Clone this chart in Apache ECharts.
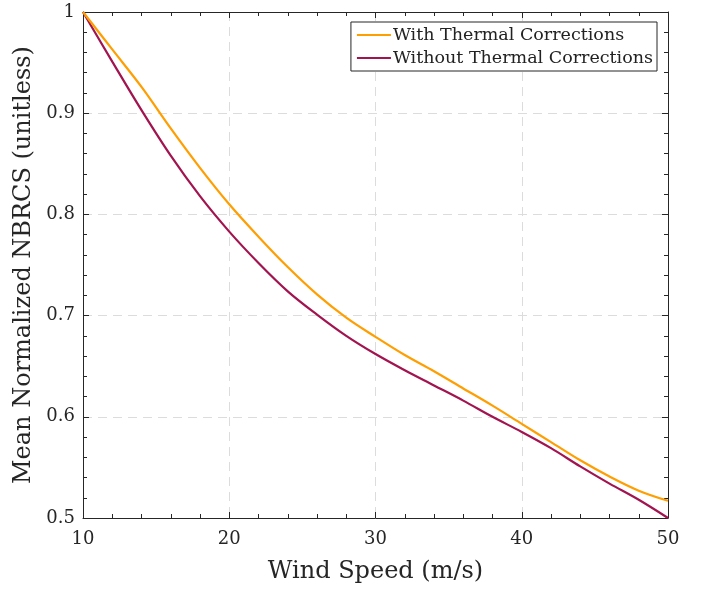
<!DOCTYPE html>
<html><head><meta charset="utf-8">
<script src="https://cdn.jsdelivr.net/npm/echarts@6/dist/echarts.min.js"></script>
<style>html,body{margin:0;padding:0;background:#fff}#c{width:707px;height:589px}</style>
</head><body><div id="c"></div>
<script>
const windSpeed = [10,12,14,16,18,20,22,24,26,28,30,32,34,36,38,40,42,44,46,48,50];
const withThermal = [1.000,0.963,0.926,0.885,0.846,0.810,0.778,0.748,0.721,0.698,0.679,0.661,0.645,0.628,0.611,0.593,0.575,0.557,0.541,0.527,0.517];
const withoutThermal = [1.000,0.951,0.903,0.858,0.818,0.783,0.752,0.724,0.701,0.680,0.662,0.646,0.631,0.616,0.600,0.585,0.569,0.551,0.534,0.518,0.500];
const xTicks = [10,20,30,40,50];
const yTicks = [0.5,0.6,0.7,0.8,0.9,1];
const seriesNames = ['With Thermal Corrections','Without Thermal Corrections'];

const font = 'DejaVu Serif, Liberation Serif, serif';
const axisCol = '#262626';
const chart = echarts.init(document.getElementById('c'));
const fmtY = v => (v === 1 ? '1' : v.toFixed(1));
const baseX = {
  type:'value', min:10, max:50, interval:10,
  axisLine:{show:true,onZero:false,lineStyle:{color:axisCol,width:1}},
  axisTick:{show:true,inside:true,length:6,lineStyle:{color:axisCol}},
  minorTick:{show:true,splitNumber:5,length:4,lineStyle:{color:axisCol}},
};
const baseY = {
  type:'value', min:0.5, max:1, interval:0.1,
  axisLine:{show:true,onZero:false,lineStyle:{color:axisCol,width:1}},
  axisTick:{show:true,inside:true,length:6,lineStyle:{color:axisCol}},
  minorTick:{show:true,splitNumber:5,length:4,lineStyle:{color:axisCol}},
};
chart.setOption({
  animation:false,
  backgroundColor:'#fff',
  grid:{left:83,right:39,top:12,bottom:68,containLabel:false},
  legend:{
    data:seriesNames, orient:'vertical', right:50, top:22,
    backgroundColor:'#fff', borderColor:axisCol, borderWidth:1,
    padding:[4,4,4,6], itemGap:5, itemWidth:34, itemHeight:2, icon:'rect',
    textStyle:{fontFamily:font,fontSize:17.5,color:'#222',padding:[0,0,0,-3]}
  },
  xAxis:[
    Object.assign({}, baseX, {
      position:'bottom',
      name:'Wind Speed (m/s)', nameLocation:'middle', nameGap:42,
      nameTextStyle:{fontFamily:font,fontSize:24,color:'#262626'},
      axisLabel:{fontFamily:font,fontSize:18,color:'#262626',margin:12},
      splitLine:{show:true,lineStyle:{color:'#dcdcdc',type:[9,6],width:1}}
    }),
    Object.assign({}, baseX, {position:'top',axisLabel:{show:false},splitLine:{show:false}})
  ],
  yAxis:[
    Object.assign({}, baseY, {
      position:'left',
      name:'Mean Normalized NBRCS (unitless)', nameLocation:'middle', nameGap:47,
      nameTextStyle:{fontFamily:font,fontSize:24,color:'#262626'},
      axisLabel:{fontFamily:font,fontSize:18,color:'#262626',margin:8,formatter:fmtY},
      splitLine:{show:true,lineStyle:{color:'#dcdcdc',type:[9,6],width:1}}
    }),
    Object.assign({}, baseY, {position:'right',axisLabel:{show:false},splitLine:{show:false}})
  ],
  series:[
    {name:seriesNames[0],type:'line',smooth:0.35,showSymbol:false,
     data:windSpeed.map((x,i)=>[x,withThermal[i]]),
     lineStyle:{color:'#FF9E00',width:2.2},itemStyle:{color:'#FF9E00'},z:3},
    {name:seriesNames[1],type:'line',smooth:0.35,showSymbol:false,
     data:windSpeed.map((x,i)=>[x,withoutThermal[i]]),
     lineStyle:{color:'#A2144F',width:2.2},itemStyle:{color:'#A2144F'},z:2}
  ]
});
</script></body></html>
